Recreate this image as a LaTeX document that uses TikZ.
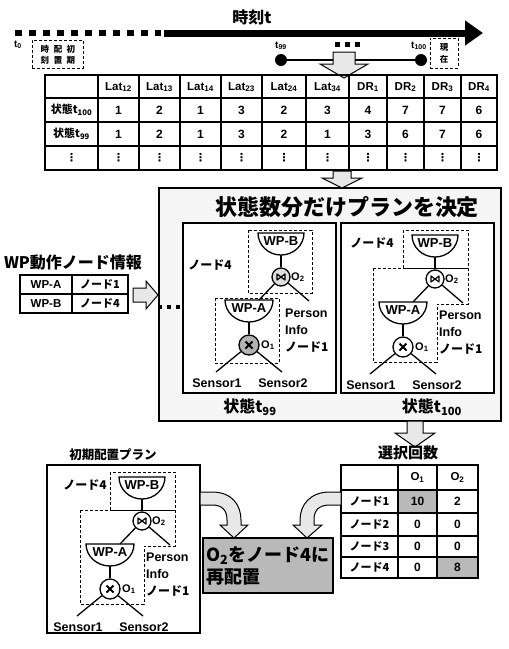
\documentclass[tikz,border=0pt]{standalone}
\usepackage{fontspec}
\setmainfont{Liberation Sans}
\newfontfamily\jp{Noto Sans CJK JP}
\newfontfamily\dv{DejaVu Sans}
\usetikzlibrary{arrows.meta}
\newcommand\fs[1]{\fontsize{#1}{#1}\selectfont}
\newcommand\bowl[4]{%
  \draw[tl, fill=white] ({#1-#3},{#2}) -- ({#1+#3},{#2})
    .. controls ({#1+#3},{#2+0.552*#4}) and ({#1+0.552*#3},{#2+#4}) .. ({#1},{#2+#4})
    .. controls ({#1-0.552*#3},{#2+#4}) and ({#1-#3},{#2+0.552*#4}) .. ({#1-#3},{#2}) -- cycle;}
\newcommand\drawtree[4]{%
\begin{scope}[shift={#2}]
  \bowl{0}{-45}{24}{22}
  \node[lbl] (#1wpa) at (0,-37) {WP-A};
  \bowl{32}{-112}{23}{22}
  \node[lbl] (#1wpb) at (32,-104) {WP-B};
  \node[opc, fill=#3] (#1o1) at (0,0) {};
  \node[opc, fill=#4, minimum size=18pt] (#1o2) at (32,-68) {};
  \coordinate (#1ab) at (0,-23);
  \coordinate (#1bb) at (32,-90);
  \draw[tl] (#1ab) -- (#1o1);
  \draw[tl] (#1bb) -- (#1o2);
  \coordinate (#1at) at (10,-45);
  \coordinate (#1pe) at (60,-44);
  \draw[tl] (#1o2) -- (#1at);
  \draw[tl] (#1o2) -- (#1pe);
  \coordinate (#1s1) at (-33,27);
  \coordinate (#1s2) at (33,27);
  \draw[tl] (#1o1) -- (#1s1);
  \draw[tl] (#1o1) -- (#1s2);
  \draw[line width=2pt] (-3.5,-3.5) -- (3.5,3.5) (-3.5,3.5) -- (3.5,-3.5);
  \draw[line width=1.2pt, line join=round] (28,-71) -- (28,-65) -- (36,-71) -- (36,-65) -- cycle;
  \node[lbl, font=\bfseries\fs{11}, anchor=west] (#1l1) at (12,0) {O\textsubscript{1}};
  \node[lbl, font=\bfseries\fs{11}, anchor=west] (#1l2) at (42,-68) {O\textsubscript{2}};
  \node[lbl, font=\bfseries\fs{12.5}] (#1sa) at (-32,38) {Sensor1};
  \node[lbl, font=\bfseries\fs{12.5}] (#1sb) at (34,38) {Sensor2};
  \node[lbl, font=\bfseries\fs{12.5}, anchor=west] (#1pp) at (36,-32) {Person};
  \node[lbl, font=\bfseries\fs{12.5}, anchor=west] (#1pi) at (36,-15) {Info};
  \node[jl, anchor=west] (#1pn) at (36,2) {ノード1};
\end{scope}}
\begin{document}
\begin{tikzpicture}[x=1pt,y=-1pt,
  box/.style={line width=1.3pt},
  dsh/.style={line width=1pt, dash pattern=on 3pt off 2pt},
  tl/.style={line width=1.3pt},
  blk/.style={draw, line width=1pt, fill=gray!18, line join=miter},
  lbl/.style={font=\bfseries\fs{13}, inner sep=0},
  jl/.style={font=\jp\bfseries\fs{12}, inner sep=0},
  cell/.style={font=\bfseries\fs{11.5}, inner sep=0},
  jcell/.style={font=\jp\bfseries\fs{11}, inner sep=0},
  vd/.style={font=\dv\bfseries\fs{11}, inner sep=0},
  opc/.style={circle, draw, line width=1.3pt, minimum size=20pt, inner sep=0}]
\useasboundingbox (0,0) rectangle (509,649);
\fill[white] (0,0) rectangle (509,649);

% ---- time axis ----
\node[font=\jp\bfseries\fs{16}] (ttl) at (252,17) {時刻t};
\coordinate (ds) at (15,33);
\coordinate (de) at (161,33);
\draw[line width=6.5pt, dash pattern=on 6.5pt off 7.5pt] (ds) -- (de);
\coordinate (ts) at (164,33);
\coordinate (te) at (483,33);
\draw[line width=7pt, -{Triangle[length=18pt,width=24pt]}] (ts) -- (te);
\node[cell, font=\bfseries\fs{10}] (t0) at (18,45) {t\textsubscript{0}};
\node[draw, dsh, minimum width=51pt, minimum height=28pt, inner sep=0] (initbox) at (57.5,54) {};
\foreach \c/\x/\y [count=\i] in {時/45/49, 刻/45/60, 配/58/49, 置/58/60, 初/71/49, 期/71/60}
  \node[font=\jp\bfseries\fs{8.5}, inner sep=0] (v\i) at (\x,\y) {\c};
\node[draw, dsh, minimum width=28pt, minimum height=30pt, inner sep=0] (nowbox) at (444,53) {};
\node[font=\jp\bfseries\fs{8.5}, inner sep=0] (n1) at (444,47) {現};
\node[font=\jp\bfseries\fs{8.5}, inner sep=0] (n2) at (444,59) {在};
\node[circle, fill, inner sep=0, minimum size=12pt] (d99) at (281,60) {};
\node[circle, fill, inner sep=0, minimum size=12pt] (d100) at (421,60) {};
\draw[tl] (d99) -- (d100);
\node[cell, font=\bfseries\fs{10}] (l99) at (281,46) {t\textsubscript{99}};
\node[cell, font=\bfseries\fs{10}] (l100) at (419,46) {t\textsubscript{100}};
\foreach \x in {337,347,357} \fill (\x-2.5,41.5) rectangle (\x+2.5,46.5);
\draw[blk] (333,52) -- (355,52) -- (355,64) -- (368,64) -- (344,78) -- (320,64) -- (333,64) -- cycle;

% ---- state table ----
\draw[box] (45,75) rectangle (497,170);
\foreach \x in {98,139,180,221,262,306,349,387,424,461} \draw[box] (\x,75) -- (\x,170);
\foreach \y in {98,122,146} \draw[box] (45,\y) -- (497,\y);
\foreach \x/\t [count=\i] in {118.5/Lat\textsubscript{12}, 159.5/Lat\textsubscript{13}, 200.5/Lat\textsubscript{14}, 241.5/Lat\textsubscript{23}, 284/Lat\textsubscript{24}, 327.5/Lat\textsubscript{34}, 368/DR\textsubscript{1}, 405.5/DR\textsubscript{2}, 442.5/DR\textsubscript{3}, 479/DR\textsubscript{4}}
  \node[cell] (h\i) at (\x,87) {\t};
\node[jcell] (rA) at (71.5,110) {状態t\textsubscript{100}};
\node[jcell] (rB) at (71.5,134) {状態t\textsubscript{99}};
\node[vd] (rC) at (71.5,158) {⋮};
\foreach \x/\a/\b [count=\i] in {118.5/1/1, 159.5/2/2, 200.5/1/1, 241.5/3/3, 284/2/2, 327.5/3/1, 368/4/3, 405.5/7/6, 442.5/7/7, 479/6/6} {
  \node[cell, font=\bfseries\fs{12}] (a\i) at (\x,110) {\a};
  \node[cell, font=\bfseries\fs{12}] (b\i) at (\x,134) {\b};
  \node[vd] (c\i) at (\x,158) {⋮};
}

% ---- panel ----
\node[draw, box, fill=gray!8, minimum width=342pt, minimum height=233pt, inner sep=0] (panel) at (330,304.5) {};
\draw[blk] (333,171) -- (351,171) -- (351,178) -- (362,178) -- (342,188) -- (322,178) -- (333,178) -- cycle;
\node[font=\jp\bfseries\fs{22}] (ptitle) at (347,207) {状態数分だけプランを決定};
\node[draw, box, fill=white, minimum width=153pt, minimum height=170pt, inner sep=0] (s99) at (259.5,308) {};
\node[draw, box, fill=white, minimum width=153pt, minimum height=170pt, inner sep=0] (s100) at (417.5,308) {};
\node[font=\jp\bfseries\fs{16}] (st99) at (250,407) {状態t\textsubscript{99}};
\node[font=\jp\bfseries\fs{16}] (st100) at (432,407) {状態t\textsubscript{100}};

\drawtree{a}{(249,345)}{gray!60}{gray!25}
\draw[dsh] (248,230) rectangle (312,293);
\draw[dsh] (215,298) rectangle (279,363);
\node[jl] (a4) at (210,265) {ノード4};

\drawtree{b}{(403,347)}{white}{white}
\draw[dsh] (403,230) rectangle (468,268);
\draw[dsh] (373,268) -- (468,268) -- (468,304) -- (437,304) -- (437,362) -- (373,362) -- cycle;
\node[jl] (b4) at (372,243) {ノード4};

% ---- WP table ----
\node[font=\jp\bfseries\fs{16}] (wpt) at (73,262) {WP動作ノード情報};
\draw[box] (20,275) rectangle (128,313);
\draw[box] (72,275) -- (72,313);
\draw[box] (20,294) -- (128,294);
\node[cell] (w1) at (46,284.5) {WP-A};
\node[jcell] (w2) at (100,284.5) {ノード1};
\node[cell] (w3) at (46,303.5) {WP-B};
\node[jcell] (w4) at (100,303.5) {ノード4};
\draw[blk] (133,288) -- (146,288) -- (146,281) -- (158,295) -- (146,309) -- (146,302) -- (133,302) -- cycle;
\foreach \x in {160,169,178} \fill (\x-2,305) rectangle (\x+2,309);

% ---- initial plan ----
\node[font=\jp\bfseries\fs{12.5}] (ipt) at (113,455) {初期配置プラン};
\node[draw, box, fill=white, minimum width=153pt, minimum height=168pt, inner sep=0] (init) at (123.5,549) {};
\drawtree{c}{(110,589)}{white}{white}
\draw[dsh] (110,472) rectangle (175,510);
\draw[dsh] (80,510) -- (175,510) -- (175,546) -- (144,546) -- (144,604) -- (80,604) -- cycle;
\node[jl] (c4) at (85,485) {ノード4};

% ---- arrow to count table ----
\draw[blk] (407,421) -- (423,421) -- (423,433) -- (435,433) -- (415,447) -- (395,433) -- (407,433) -- cycle;

% ---- count table ----
\node[font=\jp\bfseries\fs{15}] (selt) at (408,453) {選択回数};
\fill[gray!55] (398,490) rectangle (437,513);
\fill[gray!55] (437,557) rectangle (478,578);
\draw[box] (341,465) rectangle (478,578);
\foreach \x in {398,437} \draw[box] (\x,465) -- (\x,578);
\foreach \y in {490,513,536,557} \draw[box] (341,\y) -- (478,\y);
\node[cell] (q1) at (417.5,477.5) {O\textsubscript{1}};
\node[cell] (q2) at (457.5,477.5) {O\textsubscript{2}};
\foreach \y/\n/\a/\b [count=\i] in {501.5/1/10/2, 524.5/2/0/0, 546.5/3/0/0, 567.5/4/0/8} {
  \node[jcell] (k\i) at (369.5,\y) {ノード\n};
  \node[cell, font=\bfseries\fs{12}] (ka\i) at (417.5,\y) {\a};
  \node[cell, font=\bfseries\fs{12}] (kb\i) at (457.5,\y) {\b};
}

% ---- curved arrows ----
\draw[blk] (200,492) -- (212,492) .. controls (232,492) and (241,505) .. (241,520) -- (241,525) -- (248,525) -- (234,538) -- (220,525) -- (227,525) -- (227,520) .. controls (227,510) and (222,505) .. (212,505) -- (200,505) -- cycle;
\draw[blk] (341,492) -- (330,492) .. controls (310,492) and (300,505) .. (300,520) -- (300,525) -- (293,525) -- (307,538) -- (322,525) -- (314,525) -- (314,520) .. controls (314,510) and (319,505) .. (330,505) -- (341,505) -- cycle;

% ---- result ----
\node[draw, box, fill=gray!55, minimum width=130pt, minimum height=55pt, inner sep=2pt, text width=124pt, align=left, font=\jp\bfseries\fontsize{18}{22}\selectfont] (res) at (268,565.5) {O\textsubscript{2}をノード4に\\再配置};
\end{tikzpicture}
\end{document}
